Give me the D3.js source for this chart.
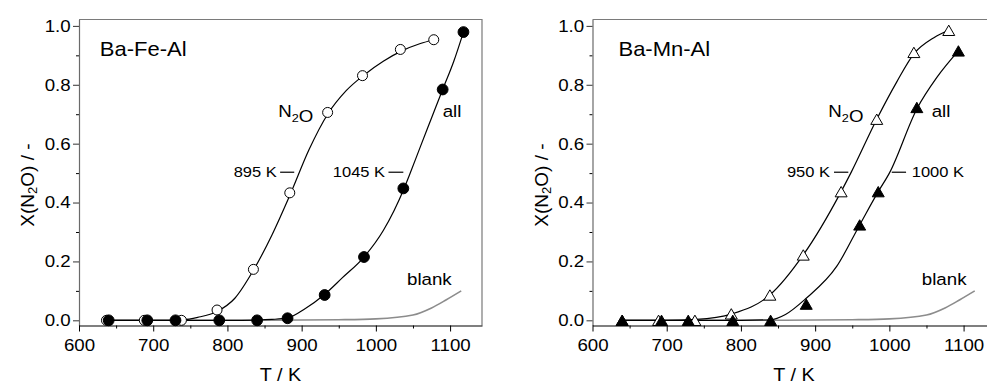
<!DOCTYPE html>
<html>
<head>
<meta charset="utf-8">
<script src="https://cdn.jsdelivr.net/npm/d3@7"></script>
<style>
  body { margin: 0; background: #fff; }
  text { font-family: "Liberation Sans", Arial, sans-serif; fill: #000; }
</style>
</head>
<body>
<div id="chart"></div>
<script>
// axis ticks
const tTicks = [600, 700, 800, 900, 1000, 1100];
const tMinor = [650, 750, 850, 950, 1050];
const xTicks = [0, 0.2, 0.4, 0.6, 0.8, 1.0];
const xMinor = [0.1, 0.3, 0.5, 0.7, 0.9];

// Ba-Fe-Al : measured points
const feN2oT = [637, 688, 738, 786, 835, 884, 935, 982, 1033, 1078];
const feN2oX = [0, 0, 0, 0.035, 0.173, 0.433, 0.706, 0.831, 0.920, 0.953];
const feAllT = [640, 692, 730, 789, 840, 881, 931, 984, 1037, 1090, 1118];
const feAllX = [0, 0, 0, 0, 0, 0.007, 0.086, 0.215, 0.448, 0.784, 0.979];
// Ba-Fe-Al : fitted lines
const feN2oFitT = [640, 700, 740, 760, 786, 810, 835, 860, 885, 910, 935, 960, 985, 1010, 1035, 1060, 1078];
const feN2oFitX = [0, 0, 0.002, 0.01, 0.03, 0.075, 0.17, 0.29, 0.43, 0.58, 0.70, 0.78, 0.835, 0.88, 0.915, 0.94, 0.953];
const feAllFitT = [640, 800, 840, 860, 881, 905, 930, 955, 984, 1010, 1038, 1045, 1060, 1075, 1090, 1105, 1118];
const feAllFitX = [0, 0, 0.001, 0.003, 0.008, 0.04, 0.086, 0.145, 0.215, 0.305, 0.448, 0.492, 0.59, 0.687, 0.784, 0.88, 0.979];

// Ba-Mn-Al : measured points
const mnN2oT = [640, 689, 738, 787, 839, 884, 935, 983, 1033, 1080];
const mnN2oX = [0, 0, 0, 0.022, 0.086, 0.222, 0.437, 0.683, 0.910, 0.985];
const mnAllT = [640, 693, 729, 789, 840, 888, 960, 985, 1037, 1093];
const mnAllX = [0, 0, 0, 0, 0, 0.055, 0.324, 0.437, 0.723, 0.915];
// Ba-Mn-Al : fitted lines
const mnN2oFitT = [640, 700, 740, 788, 839, 884, 935, 949, 983, 1010, 1033, 1060, 1080];
const mnN2oFitX = [0, 0, 0.003, 0.022, 0.086, 0.222, 0.437, 0.505, 0.683, 0.81, 0.905, 0.96, 0.985];
const mnAllFitT = [640, 800, 840, 860, 888, 929, 960, 985, 1000, 1037, 1064, 1093];
const mnAllFitX = [0, 0, 0.002, 0.02, 0.075, 0.183, 0.324, 0.437, 0.50, 0.718, 0.825, 0.915];

// blank reactor run (same in both panels)
const blankT = [640, 850, 900, 950, 1000, 1050, 1075, 1095, 1115];
const blankX = [0, 0, 0.001, 0.002, 0.005, 0.018, 0.042, 0.07, 0.10];

const zip = (ts, xs) => ts.map((t, i) => ({t: t, x: xs[i]}));

const W = 987, H = 385;
const plotTop = 19.5, plotBottom = 325.5;
const stretch = 1.1;   // glyphs in the picture are a bit wider than Arial

const svg = d3.select("#chart").append("svg")
  .attr("width", W).attr("height", H);

// text with an optional sub-scripted part, horizontally stretched like the picture
function label(g, px, py, parts, size, anchor) {
  const t = g.append("text")
    .attr("transform", `translate(${px},${py}) scale(${stretch},1)`)
    .attr("font-size", size)
    .attr("text-anchor", anchor || "start");
  parts.forEach(p => {
    if (typeof p === "object") {
      t.append("tspan").attr("font-size", size * 0.68).attr("dy", size * 0.3).text(p.sub);
      t.append("tspan").attr("dy", -size * 0.3).text("");
    } else {
      t.append("tspan").text(p);
    }
  });
  return t;
}

function panel(cfg) {
  const g = svg.append("g");
  const x = d3.scaleLinear().domain([600, 1143]).range([cfg.left, cfg.left + 403]);
  const y = d3.scaleLinear().domain([-0.0176, 1.0217]).range([plotBottom, plotTop]);

  // frame (top and right)
  g.append("path")
    .attr("d", `M${x.range()[0]},${plotTop}H${x.range()[1]}V${plotBottom}`)
    .attr("fill", "none").attr("stroke", "#7a7a7a").attr("stroke-width", 1.2);

  // minor ticks
  g.append("g").attr("transform", `translate(0,${plotBottom})`)
    .call(d3.axisBottom(x).tickValues(tMinor).tickSize(3).tickFormat(""))
    .call(a => a.select(".domain").remove());
  g.append("g").attr("transform", `translate(${cfg.left},0)`)
    .call(d3.axisLeft(y).tickValues(xMinor).tickSize(3).tickFormat(""))
    .call(a => a.select(".domain").remove());

  // Y axis
  const ya = g.append("g").attr("transform", `translate(${cfg.left},0)`)
    .call(d3.axisLeft(y).tickValues(xTicks).tickSize(6).tickSizeOuter(0)
      .tickPadding(2.3).tickFormat(d3.format(".1f")));
  ya.select(".domain").attr("stroke", "#6a6a6a").attr("stroke-width", 1.2);
  ya.selectAll(".tick line").attr("stroke", "#333");
  ya.selectAll(".tick text")
    .attr("font-size", 17).attr("font-family", null)
    .attr("x", -8.3 / stretch).attr("transform", `scale(${stretch},1)`);

  // X axis
  const xa = g.append("g").attr("transform", `translate(0,${plotBottom})`)
    .call(d3.axisBottom(x).tickValues(tTicks).tickSize(6).tickSizeOuter(0)
      .tickPadding(7).tickFormat(d3.format("d")));
  xa.select(".domain").attr("stroke", "#000").attr("stroke-width", 1.2);
  xa.selectAll(".tick text")
    .attr("font-size", 17).attr("font-family", null)
    .attr("transform", `scale(${stretch},1)`);

  // axis titles
  label(g, (x.range()[0] + x.range()[1]) / 2, 381, ["T / K"], 18, "middle");
  g.append("text")
    .attr("transform", `translate(${cfg.left - 52},185) rotate(-90)`)
    .attr("font-size", 19).attr("text-anchor", "middle").attr("dominant-baseline", "central")
    .call(t => {
      t.append("tspan").text("X(N");
      t.append("tspan").attr("font-size", 13).attr("dy", 5).text("2");
      t.append("tspan").attr("dy", -5).text("O) / -");
    });

  const line = d3.line().x(d => x(d.t)).y(d => y(d.x)).curve(d3.curveMonotoneX);

  g.append("path").datum(zip(blankT, blankX))
    .attr("fill", "none").attr("stroke", "#8c8c8c").attr("stroke-width", 1.6).attr("d", line);
  [cfg.n2oFit, cfg.allFit].forEach(f => {
    g.append("path").datum(f)
      .attr("fill", "none").attr("stroke", "#000").attr("stroke-width", 1.2).attr("d", line);
  });

  // markers: open = N2O, filled = all
  const sets = [{d: cfg.n2o, fill: "#fff"}, {d: cfg.all, fill: "#000"}];
  sets.forEach(s => {
    if (cfg.marker === "circle") {
      g.append("g").selectAll("circle").data(s.d).join("circle")
        .attr("cx", d => x(d.t)).attr("cy", d => y(d.x))
        .attr("r", s.fill === "#000" ? 5.4 : 5)
        .attr("fill", s.fill).attr("stroke", "#000").attr("stroke-width", 1);
    } else {
      const size = 62;
      const off = Math.sqrt(size / (Math.sqrt(3) * 3)) / 2;
      g.append("g").selectAll("path").data(s.d).join("path")
        .attr("transform", d => `translate(${x(d.t)},${y(d.x) + off})`)
        .attr("d", d3.symbol(d3.symbolTriangle, size))
        .attr("fill", s.fill).attr("stroke", "#000").attr("stroke-width", 1);
    }
  });

  // annotations
  label(g, x(cfg.title[1]), y(0.897), [cfg.title[0]], 20);
  label(g, x(cfg.n2oLab), y(0.691), ["N", {sub: "2"}, "O"], 17);
  label(g, x(cfg.allLab), y(0.691), ["all"], 17);
  label(g, x(cfg.blankLab), y(0.119), ["blank"], 17);
  cfg.t50.forEach(a => {
    g.append("line")
      .attr("x1", x(a.d0)).attr("x2", x(a.d1)).attr("y1", y(0.503)).attr("y2", y(0.503))
      .attr("stroke", "#000").attr("stroke-width", 1.2);
    label(g, x(a.tx), y(0.486), [a.text], 15, a.anchor);
  });
}

panel({
  left: 79, marker: "circle",
  title: ["Ba-Fe-Al", 628],
  n2o: zip(feN2oT, feN2oX), all: zip(feAllT, feAllX),
  n2oFit: zip(feN2oFitT, feN2oFitX), allFit: zip(feAllFitT, feAllFitX),
  n2oLab: 868.5, allLab: 1090, blankLab: 1042,
  t50: [
    {text: "895 K", tx: 866.4, d0: 871, d1: 890, anchor: "end"},
    {text: "1045 K", tx: 1012.4, d0: 1017, d1: 1037, anchor: "end"}
  ]
});

panel({
  left: 592.5, marker: "triangle",
  title: ["Ba-Mn-Al", 635],
  n2o: zip(mnN2oT, mnN2oX), all: zip(mnAllT, mnAllX),
  n2oFit: zip(mnN2oFitT, mnN2oFitX), allFit: zip(mnAllFitT, mnAllFitX),
  n2oLab: 917.8, allLab: 1057, blankLab: 1043.7,
  t50: [
    {text: "950 K", tx: 920, d0: 925.4, d1: 944.7, anchor: "end"},
    {text: "1000 K", tx: 1030.2, d0: 1003.2, d1: 1022.5, anchor: "start"}
  ]
});
</script>
</body>
</html>
